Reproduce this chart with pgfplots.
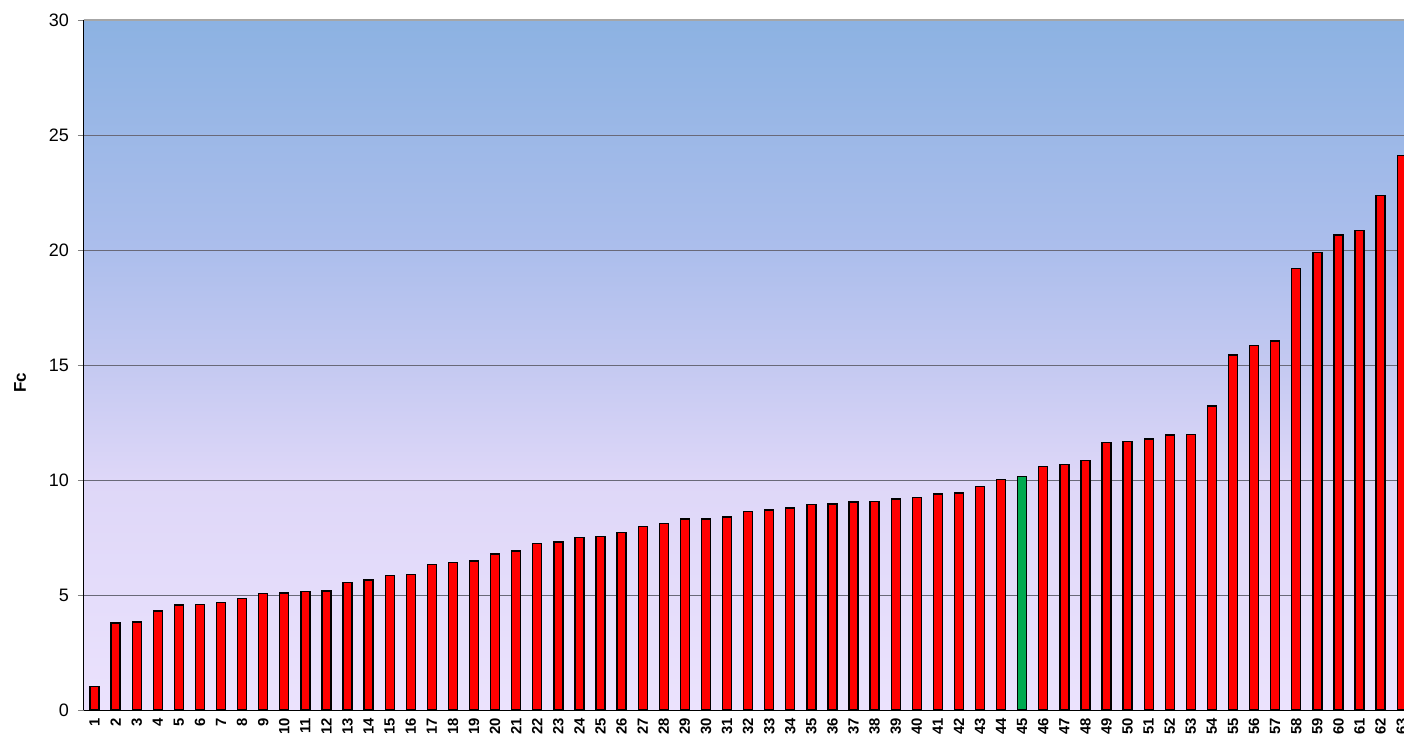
\documentclass[border=0pt]{standalone}
\usepackage{pgfplots}
\pgfplotsset{compat=1.18}
\usepackage{fontspec}
\setmainfont{Liberation Sans}
\definecolor{bgtop}{RGB}{140,178,226}
\definecolor{bg20}{RGB}{172,190,236}
\definecolor{bg15}{RGB}{196,201,241}
\definecolor{bg10}{RGB}{222,215,248}
\definecolor{bgbot}{RGB}{235,226,253}
\definecolor{gridc}{RGB}{105,105,120}
\definecolor{barred}{RGB}{255,0,0}
\definecolor{bargreen}{RGB}{0,170,80}
\pgfdeclareverticalshading{bgshade}{100bp}{color(0bp)=(bgbot); color(25bp)=(bgbot); color(41.67bp)=(bg10); color(50bp)=(bg15); color(58.33bp)=(bg20); color(75bp)=(bgtop); color(100bp)=(bgtop)}
\begin{document}
\begin{tikzpicture}
\begin{axis}[
  scale only axis,
  width=660pt, height=345pt,
  xmin=0.5, xmax=63.11,
  ymin=0, ymax=30,
  axis x line*=bottom, axis y line*=left,
  axis line style={black, line width=0.5pt},
  axis background/.style={shading=bgshade},
  ytick={0,5,...,30},
  ymajorgrids,
  grid style={gridc, line width=0.4pt},
  xtick={1,...,63},
  x tick style={draw=none},
  minor xtick={0.5,1.5,...,63.5},
  minor x tick style={gray, line width=0.4pt},
  y tick style={gray, line width=0.4pt},
  tick align=outside,
  major tick length=3pt, minor tick length=2.5pt,
  /pgf/number format/assume math mode=true,
  yticklabel style={font=\fontsize{9}{10}\selectfont, xshift=-1pt},
  xticklabel style={font=\bfseries\fontsize{7.4}{8}\selectfont, rotate=90, anchor=east, inner sep=0.8pt},
  ylabel={\bfseries Fc},
  ylabel style={font=\fontsize{8.5}{10}\selectfont, at={(axis description cs:-0.0485,0.474)}, anchor=center},
  ybar, bar width=4.5pt,
]
\addplot[fill=barred, draw=black, line width=0.7pt, bar shift=0pt] coordinates {
(1,1.03) (2,3.79) (3,3.82) (4,4.30) (5,4.57) (6,4.60) (7,4.68) (8,4.86) (9,5.07) (10,5.08)
(11,5.14) (12,5.17) (13,5.55) (14,5.65) (15,5.86) (16,5.90) (17,6.33) (18,6.41) (19,6.47) (20,6.79)
(21,6.92) (22,7.25) (23,7.30) (24,7.49) (25,7.55) (26,7.73) (27,7.97) (28,8.11) (29,8.30) (30,8.30)
(31,8.40) (32,8.63) (33,8.69) (34,8.79) (35,8.94) (36,8.95) (37,9.05) (38,9.07) (39,9.17) (40,9.23)
(41,9.40) (42,9.44) (43,9.72) (44,10.02) (46,10.59) (47,10.68) (48,10.86) (49,11.63) (50,11.68)
(51,11.79) (52,11.95) (53,11.97) (54,13.22) (55,15.44) (56,15.84) (57,16.05) (58,19.20) (59,19.88) (60,20.66)
(61,20.85) (62,22.36) (63,24.10)
};
\addplot[fill=bargreen, draw=black, line width=0.7pt, bar shift=0pt] coordinates {(45,10.14)};
\draw[gray!70, line width=0.6pt] (rel axis cs:0,1) -- (rel axis cs:1,1);
\coordinate (sw) at (rel axis cs:0,0);
\coordinate (ne) at (rel axis cs:1,1);
\end{axis}
\pgfresetboundingbox
\path[use as bounding box] ([xshift=-42pt,yshift=-14.5pt]sw) rectangle ([yshift=10pt]ne);
\end{tikzpicture}
\end{document}
